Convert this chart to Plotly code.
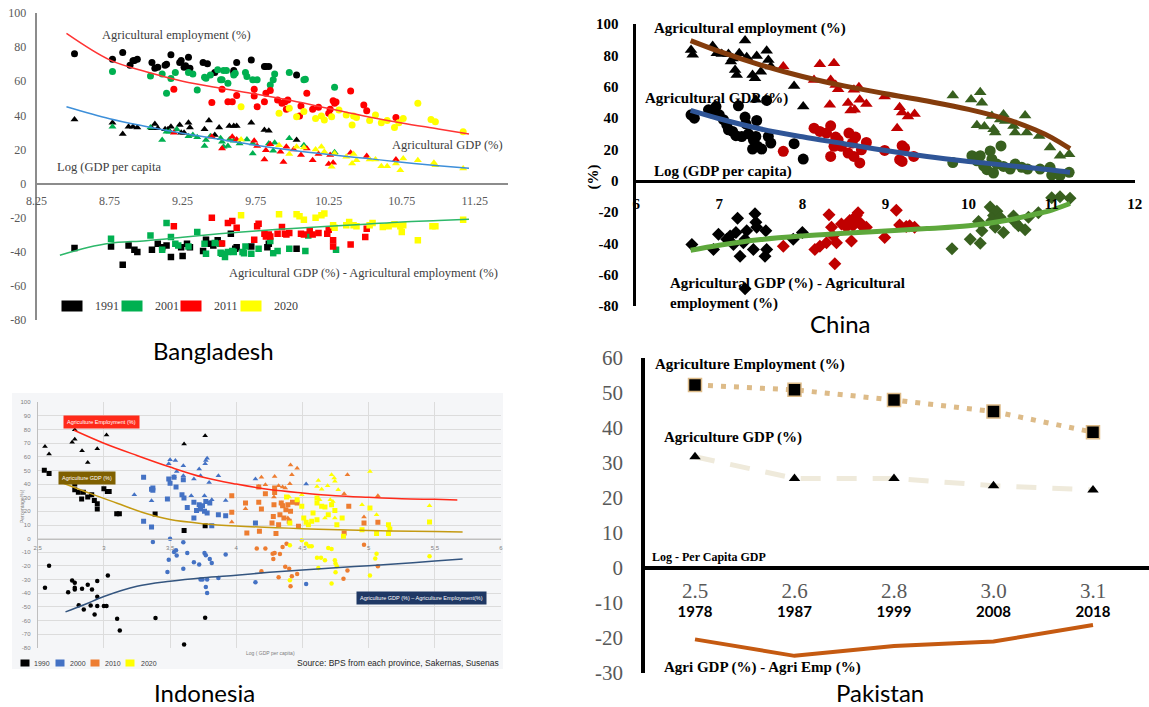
import plotly.graph_objects as go

# Target picture is 1149x707; the page body margin is removed after drawing,
# so the figure fills the whole window.
PAGE_W, PAGE_H = 1149, 707
OFF = 0
W, H = PAGE_W - 2 * OFF, PAGE_H - 2 * OFF

# ======================= DATA =======================
# ---- Bangladesh (x = log GDP per capita, y = %) ----
bd_years = ["1991", "2001", "2011", "2020"]
bd_colors = ["#000000", "#00B050", "#FF0000", "#FFFF00"]

bd_emp_1991 = [(8.51,76.1),(8.77,72.9),(8.84,76.9),(8.89,69.4),(8.91,72.0),(8.92,72.2),(8.94,72.9),(9.04,71.0),(9.06,67.6),(9.08,68.2),(9.13,69.4),(9.14,70.0),(9.17,75.5),(9.23,71.0),(9.24,72.2),(9.26,68.2),(9.27,69.0),(9.29,74.1),(9.30,67.6),(9.39,71.0),(9.42,70.2),(9.47,65.1),(9.60,66.3),(9.60,65.1),(9.62,71.0),(9.72,72.5),(9.81,68.6),(9.82,68.6),(9.84,68.6),(10.03,63.7)]
bd_emp_2001 = [(8.77,65.7),(9.03,63.1),(9.11,64.3),(9.14,52.9),(9.17,61.6),(9.20,65.1),(9.29,65.1),(9.32,64.3),(9.35,54.9),(9.40,62.4),(9.41,61.8),(9.44,63.7),(9.49,66.7),(9.51,60.8),(9.52,60.8),(9.53,66.3),(9.55,66.3),(9.56,58.8),(9.60,63.7),(9.61,64.7),(9.68,65.1),(9.69,62.7),(9.73,60.8),(9.76,60.8),(9.85,57.8),(9.87,60.8),(9.88,64.3),(9.98,65.1),(10.08,60.8),(10.09,61.2),(10.29,56.5)]
bd_emp_2011 = [(9.19,55.3),(9.45,47.5),(9.52,55.3),(9.56,48.0),(9.59,48.0),(9.62,51.6),(9.74,55.3),(9.74,51.4),(9.76,45.1),(9.81,48.0),(9.82,52.9),(9.85,54.5),(9.90,49.0),(9.93,47.1),(9.95,48.0),(9.96,43.5),(9.97,49.0),(10.05,39.6),(10.06,45.5),(10.10,52.9),(10.14,43.5),(10.18,44.7),(10.25,41.2),(10.26,43.5),(10.28,48.6),(10.29,47.1),(10.30,47.8),(10.40,54.3),(10.49,46.1),(10.51,42.7),(10.71,38.8)]
bd_emp_2020 = [(9.65,45.1),(9.91,41.2),(9.98,44.1),(10.03,39.2),(10.08,42.2),(10.16,38.2),(10.20,39.6),(10.22,37.3),(10.27,39.2),(10.32,43.1),(10.37,40.2),(10.41,34.3),(10.42,39.6),(10.44,38.8),(10.53,36.9),(10.57,40.2),(10.61,35.7),(10.65,36.9),(10.70,32.9),(10.73,35.7),(10.76,38.2),(10.86,47.1),(10.95,37.6),(10.98,36.3),(11.17,30.4)]

bd_gdp_1991 = [(8.51,37.6),(8.77,35.7),(8.84,29.0),(8.88,33.3),(8.91,33.3),(8.94,32.9),(9.04,32.4),(9.06,34.9),(9.08,32.4),(9.13,31.8),(9.15,31.8),(9.17,33.3),(9.23,34.3),(9.24,29.8),(9.26,29.8),(9.29,35.7),(9.30,32.9),(9.40,31.8),(9.43,36.9),(9.47,28.4),(9.50,32.9),(9.57,33.7),(9.60,33.7),(9.62,33.7),(9.72,35.7),(9.81,31.4),(9.84,31.0),(10.03,25.5)]
bd_gdp_2001 = [(8.77,33.3),(9.03,32.9),(9.11,25.5),(9.14,30.4),(9.16,30.4),(9.21,31.8),(9.29,27.8),(9.32,28.4),(9.35,27.1),(9.40,22.0),(9.41,25.5),(9.44,27.8),(9.51,26.5),(9.52,24.5),(9.53,21.6),(9.56,22.0),(9.57,25.9),(9.60,25.1),(9.64,23.5),(9.69,25.9),(9.73,17.6),(9.73,23.5),(9.84,23.5),(9.87,19.2),(9.88,23.9),(9.98,26.5),(10.08,22.5),(10.29,18.4)]
bd_gdp_2011 = [(9.19,29.8),(9.45,27.5),(9.52,20.6),(9.59,27.5),(9.62,25.9),(9.74,25.1),(9.76,22.0),(9.81,14.1),(9.82,19.6),(9.85,23.1),(9.92,18.6),(9.94,12.7),(9.96,21.6),(10.01,20.0),(10.06,16.7),(10.10,20.6),(10.14,13.7),(10.18,17.3),(10.25,11.4),(10.26,16.7),(10.28,12.2),(10.40,18.0),(10.51,16.1),(10.71,14.1)]
bd_gdp_2020 = [(9.65,25.9),(9.91,22.5),(9.98,17.3),(10.03,21.6),(10.08,21.2),(10.16,20.0),(10.20,21.6),(10.22,18.6),(10.27,9.8),(10.29,17.6),(10.37,15.7),(10.41,11.8),(10.42,17.3),(10.44,13.7),(10.53,14.1),(10.57,14.1),(10.61,10.2),(10.65,10.2),(10.71,11.8),(10.74,7.8),(10.76,14.7),(10.86,13.7),(10.97,12.2),(10.98,10.8),(11.17,8.8)]

bd_diff_1991 = [(8.51,-37.8),(8.76,-36.9),(8.84,-47.6),(8.88,-36.3),(8.92,-38.8),(8.94,-40.2),(9.04,-38.8),(9.08,-35.3),(9.11,-37.3),(9.14,-36.3),(9.17,-43.1),(9.24,-37.3),(9.25,-42.5),(9.28,-35.3),(9.30,-37.3),(9.39,-39.6),(9.41,-32.9),(9.43,-35.3),(9.46,-36.3),(9.49,-33.3),(9.51,-35.3),(9.58,-29.4),(9.61,-38.2),(9.62,-37.3),(9.72,-36.9),(9.83,-37.3),(9.84,-35.3),(10.03,-38.2)]
bd_diff_2001 = [(8.76,-32.4),(9.03,-30.4),(9.14,-23.1),(9.17,-31.4),(9.20,-35.3),(9.22,-36.3),(9.11,-38.8),(9.29,-36.9),(9.35,-28.4),(9.40,-35.3),(9.41,-41.2),(9.47,-34.9),(9.51,-35.3),(9.51,-40.6),(9.52,-41.2),(9.54,-43.1),(9.56,-40.2),(9.59,-39.6),(9.60,-40.2),(9.66,-40.2),(9.67,-40.8),(9.68,-36.9),(9.72,-41.2),(9.77,-38.2),(9.85,-33.7),(9.87,-40.8),(9.90,-39.6),(9.98,-38.2),(10.09,-39.6),(10.11,-30.4),(10.30,-38.8)]
bd_diff_2011 = [(9.19,-25.1),(9.45,-20.0),(9.52,-35.1),(9.56,-23.1),(9.59,-22.0),(9.62,-25.9),(9.74,-32.9),(9.76,-25.1),(9.77,-23.5),(9.81,-29.4),(9.82,-31.0),(9.84,-29.8),(9.85,-31.0),(9.90,-29.4),(9.93,-25.5),(9.95,-29.4),(9.96,-29.8),(9.98,-29.0),(10.06,-29.4),(10.08,-29.8),(10.12,-27.5),(10.14,-29.8),(10.18,-29.0),(10.24,-29.4),(10.25,-27.1),(10.28,-33.3),(10.28,-36.9),(10.40,-35.7),(10.50,-31.4),(10.51,-26.5)]
bd_diff_2020 = [(9.65,-18.6),(9.91,-18.0),(10.03,-18.0),(10.05,-19.2),(10.08,-21.2),(10.16,-20.0),(10.20,-18.6),(10.22,-17.6),(10.28,-24.5),(10.29,-25.9),(10.37,-24.5),(10.39,-22.5),(10.42,-24.5),(10.44,-25.1),(10.53,-24.5),(10.55,-23.1),(10.62,-25.5),(10.66,-25.1),(10.70,-23.9),(10.74,-25.1),(10.75,-28.4),(10.76,-24.5),(10.86,-33.3),(10.96,-25.1),(10.98,-25.1),(11.17,-21.2)]

bd_trend_x = [8.455, 8.75, 9.0, 9.25, 9.5, 9.75, 10.0, 10.25, 10.5, 10.75, 11.0, 11.21]
bd_trend_emp = [88, 72.5, 65.5, 60, 56, 52.5, 48.5, 44, 39.5, 35.5, 32, 29]
bd_trend_gdp = [45, 38, 33.5, 29.5, 26, 22.5, 19.5, 17, 14.8, 12.5, 10.5, 9]
bd_trend_diff_x = [8.41, 8.6, 8.75, 9.0, 9.25, 9.5, 9.75, 10.0, 10.25, 10.5, 10.75, 11.0, 11.21]
bd_trend_diff = [-42, -37.5, -35, -33.5, -31.5, -29.5, -27.8, -26.3, -25, -23.8, -22.5, -21.7, -21]

# ---- China ----
cn_colors = ["#000000", "#C00000", "#38601F"]
cn_emp_1 = [(6.66,83.4),(6.68,80.3),(6.92,86),(6.97,81.3),(7.03,80.9),(7.11,80.9),(7.14,76),(7.16,78),(7.19,70.7),(7.21,67.5),(7.24,81.3),(7.31,89.4),(7.33,78.8),(7.40,67.5),(7.43,65.4),(7.45,79.6),(7.50,69.6),(7.57,83),(7.59,77),(7.62,72.8),(7.44,51.6),(7.90,60.5),(8.01,47.3)]
cn_gdp_1 = [(6.66,42),(6.70,39.9),(6.87,45.2),(6.92,43.1),(6.96,47.3),(7.0,42),(7.05,38.9),(7.09,35.7),(7.11,32.5),(7.16,31.4),(7.20,28.7),(7.23,47.8),(7.27,28.2),(7.31,40.6),(7.32,36.3),(7.35,29.9),(7.40,20.2),(7.41,26.1),(7.44,28.2),(7.45,38.4),(7.46,21.9),(7.51,20.2),(7.57,51.2),(7.59,28.2),(7.62,24),(7.90,23.6),(8.01,13.8)]
cn_diff_1 = [(6.67,-40.7),(6.93,-43.9),(6.99,-34.2),(7.09,-37.4),(7.13,-35.3),(7.17,-40.7),(7.20,-33.1),(7.22,-24),(7.25,-48.3),(7.29,-39.6),(7.31,-37.4),(7.33,-32),(7.41,-43.9),(7.43,-21.1),(7.44,-26.6),(7.45,-29.8),(7.56,-32),(7.57,-43.9),(7.55,-48.3),(7.89,-37.4),(8.0,-33.1),(7.31,-69)]
cn_emp_2 = [(7.77,72.8),(8.14,64.3),(8.21,74.3),(8.38,74.9),(8.33,48.4),(8.34,64.3),(8.40,61.1),(8.43,58.4),(8.55,49.5),(8.58,44.8),(8.63,45.2),(8.62,58),(8.68,59.7),(8.69,51.6),(8.77,49),(8.99,53.7),(9.17,46.9),(9.20,43.5),(9.14,33.5),(9.27,41),(9.35,42.5)]
cn_gdp_2 = [(7.77,18.7),(8.14,33.5),(8.21,31.4),(8.29,30.4),(8.34,35),(8.34,15.5),(8.38,21.9),(8.40,27.8),(8.43,26.1),(8.47,21.9),(8.55,17.6),(8.56,30.4),(8.60,24),(8.62,15.5),(8.64,27.8),(8.69,11.3),(8.71,19.7),(8.77,24.4),(8.99,19.3),(9.20,22.3),(9.17,13.4),(9.20,12.3),(9.23,20.8),(9.34,15.5)]
cn_diff_2 = [(7.77,-41.8),(8.15,-43.9),(8.21,-41.8),(8.29,-39.6),(8.32,-21.8),(8.35,-29.8),(8.37,-35.3),(8.41,-39.6),(8.39,-53.1),(8.47,-27.6),(8.53,-29.8),(8.57,-25.5),(8.59,-38.5),(8.61,-28.7),(8.65,-22.2),(8.67,-20.5),(8.69,-26.6),(8.73,-29.8),(8.77,-29.8),(8.99,-36.3),(9.13,-18.9),(9.17,-28.3),(9.25,-29.2),(9.29,-28.7),(9.35,-29.8)]
cn_emp_3 = [(9.81,54.3),(10.03,51.8),(10.14,56.4),(10.16,49.7),(10.10,35.3),(10.19,34.5),(10.28,41.2),(10.30,32.8),(10.32,30.7),(10.38,39.1),(10.42,42.3),(10.44,38.1),(10.54,34.9),(10.56,30.7),(10.68,41.6),(10.70,30.7),(10.85,28.5),(10.98,21.1),(11.10,15.9),(11.21,16.9)]
cn_gdp_3 = [(9.81,11.6),(10.04,15.9),(10.10,12.7),(10.14,15.9),(10.18,9.5),(10.22,7.0),(10.26,19.0),(10.28,13.7),(10.30,4.9),(10.39,22.2),(10.34,10.6),(10.42,9.1),(10.50,7.4),(10.56,10.6),(10.64,8.5),(10.71,7.4),(10.86,7.4),(10.98,8.5),(11.0,3.6),(11.10,3.2),(11.21,5.3)]
cn_diff_3 = [(9.80,-43.5),(10.02,-37.4),(10.12,-26.1),(10.14,-40.0),(10.16,-32),(10.26,-16.8),(10.28,-25.5),(10.30,-22.2),(10.32,-29.8),(10.34,-19.6),(10.38,-23.3),(10.42,-33.1),(10.54,-22.6),(10.56,-26.6),(10.60,-28.7),(10.68,-31.3),(10.72,-23.3),(10.84,-20.5),(11.0,-10.9),(11.10,-10.3),(11.22,-11.3)]

cn_trend_x = [6.655, 7.0, 7.5, 8.0, 8.5, 9.0, 9.5, 10.0, 10.5, 10.8, 11.0, 11.22]
cn_trend_emp = [89.4, 82.5, 73.8, 66.5, 60.5, 55.5, 50.8, 45.5, 38.5, 32.5, 27.5, 20.4]
cn_trend_gdp = [44.8, 39.5, 33.0, 28.0, 23.6, 19.2, 15.4, 12.3, 9.6, 7.9, 6.8, 5.3]
cn_trend_diff = [-44.4, -41.2, -37.6, -35.3, -33.6, -32.1, -30.6, -28.8, -24.9, -21.4, -18.8, -14.6]

# ---- Indonesia ----
id_years = ["1990", "2000", "2010", "2020"]
id_colors = ["#000000", "#4472C4", "#ED7D31", "#FFFF00"]
id_emp_1990 = [(2.555,67.6),(2.586,62),(2.78,79.8),(2.76,70.7),(2.78,72.9),(2.835,64.4),(2.878,55.9),(2.95,65.9),(3.02,76.1),(3.606,69.5),(3.765,75.4)]
id_gdp_1990 = [(2.55,50.2),(2.586,47.8),(2.78,40),(2.78,35.9),(2.807,34.1),(2.845,34.1),(2.832,29),(2.878,30.5),(2.908,32.2),(2.928,28),(2.95,25.6),(2.95,21.7),(3.0,36.6),(3.026,34.6),(3.04,34.6),(3.097,18.3),(3.117,18.3),(3.387,18),(3.606,5.9),(3.765,9.5)]
id_diff_1990 = [(2.555,-36.1),(2.586,-19.8),(2.73,-39.3),(2.76,-30.7),(2.78,-32.4),(2.78,-36.1),(2.78,-37.3),(2.81,-48.8),(2.835,-36.8),(2.848,-52),(2.878,-33.9),(2.90,-49),(2.91,-37.3),(2.93,-55.6),(2.95,-31),(2.95,-49.5),(2.95,-42.7),(3.0,-49.5),(3.02,-49.5),(3.03,-27.1),(3.10,-58.8),(3.12,-67.3),(3.39,-58.3),(3.606,-77.6),(3.765,-58)]
id_emp_2000 = [(3.23,32.2),(3.36,27.8),(3.49,54.9),(3.50,57.8),(3.54,57.3),(3.53,45.6),(3.55,49.3),(3.60,53.4),(3.60,46.1),(3.66,31.5),(3.68,43.7),(3.72,51),(3.73,46.1),(3.76,31.5),(3.765,54.9),(3.77,57.3),(3.78,59),(3.795,41.2),(3.815,28.5),(3.865,46.1),(3.92,28),(4.145,43.7),(4.528,40)]
id_gdp_2000 = [(3.30,45.1),(3.36,36.3),(3.37,37.1),(3.37,35.4),(3.48,29),(3.49,43.7),(3.50,40.7),(3.53,45.1),(3.545,37.8),(3.59,32.2),(3.60,43.2),(3.605,29.8),(3.63,22.9),(3.68,26.6),(3.70,20.7),(3.72,24.9),(3.73,21.7),(3.745,24.1),(3.76,20),(3.77,27.3),(3.78,18.8),(3.80,26.1),(3.815,9.5),(3.865,17.6),(3.92,16.8),(4.145,11.5),(3.30,12.7),(3.36,8.5),(3.68,15.1)]
id_diff_2000 = [(3.37,-2.4),(3.48,-24.4),(3.50,0),(3.49,-15.4),(3.53,-9.8),(3.545,-8.5),(3.55,-12.4),(3.60,-2.7),(3.60,-22),(3.63,-10.5),(3.68,-17.3),(3.72,-19),(3.73,-30),(3.745,-30),(3.76,-10.5),(3.77,-12.2),(3.78,-30),(3.77,-35.4),(3.78,-39.8),(3.80,-14.9),(3.815,-17.8),(3.865,-28.8),(3.92,-11.7),(4.145,-32),(4.528,-33.2)]
id_emp_2010 = [(3.966,12.2),(4.07,22),(4.17,38.3),(4.19,45.1),(4.22,39.5),(4.29,45.6),(4.32,38.8),(4.35,37.8),(4.37,37.1),(4.41,54.1),(4.42,46.8),(4.405,40.2),(4.46,51.7),(4.84,46.8),(4.815,32.9),(4.965,15.9),(5.07,31.5),(4.285,30.5),(4.34,26.1),(4.39,15.1)]
id_gdp_2010 = [(3.966,31.5),(3.966,19.3),(4.07,26.1),(4.08,4.1),(4.17,37.8),(4.17,26.6),(4.175,5.4),(4.19,21.7),(4.22,32.9),(4.27,11.5),(4.28,16.3),(4.285,24.9),(4.29,33.9),(4.29,37.1),(4.30,3.7),(4.32,10.2),(4.33,17.6),(4.34,26.1),(4.35,24.1),(4.36,15.1),(4.375,21.2),(4.39,24.9),(4.40,12.7),(4.41,20),(4.425,26.6),(4.47,9),(4.46,26.1),(4.85,23.7),(4.815,4.1),(4.965,11.5),(5.07,12)]
id_diff_2010 = [(4.155,-7.3),(4.22,-7.3),(4.19,-23.9),(4.275,-11),(4.28,-14.9),(4.29,-10.5),(4.33,-11.2),(4.35,-6.1),(4.32,-28.3),(4.37,-20.7),(4.38,-3.7),(4.40,-22),(4.41,-34.9),(4.42,-27.6),(4.46,-25.9),(4.81,-29.5),(4.84,-23.4),(4.965,-4.4),(5.07,-20.2)]
id_emp_2020 = [(4.40,30.5),(4.495,32.2),(4.61,38.3),(4.62,42.7),(4.645,36.3),(4.69,38.8),(4.72,46.8),(4.74,44.4),(4.745,42),(4.77,35.9),(4.71,28.5),(4.73,27.3),(4.67,15.1),(4.745,15.1),(4.95,24.9),(5.01,49.3),(5.06,17.6),(5.46,24.1),(4.63,28.5)]
id_gdp_2020 = [(4.38,30.5),(4.405,11.5),(4.46,28.5),(4.495,23.7),(4.51,15.1),(4.528,12),(4.545,10.2),(4.57,12.7),(4.58,18.8),(4.61,29.8),(4.61,13.9),(4.645,23.7),(4.67,23.2),(4.695,17.6),(4.72,24.9),(4.745,20.7),(4.76,10.2),(4.80,15.1),(4.81,1.7),(4.95,6.6),(5.01,22.4),(5.06,3.7),(5.15,10.2),(5.15,3.7),(5.46,12.2),(5.16,7.1),(4.61,26.1)]
id_diff_2020 = [(4.405,-4.9),(4.495,-1.2),(4.528,-3.7),(4.55,-5.6),(4.57,-5.6),(4.61,-14.1),(4.64,-14.1),(4.67,-15.9),(4.695,-6.8),(4.72,-7.6),(4.745,-15.9),(4.75,-18.3),(4.75,-24.6),(4.76,-20.2),(4.72,-32.9),(5.05,-14.6),(5.01,-27.1),(5.06,-11),(5.46,-12.9),(4.62,-21.5),(4.405,-30.5)]

id_trend_emp_x = [2.775, 3.0, 3.25, 3.5, 3.75, 4.0, 4.25, 4.5, 4.75, 5.0, 5.25, 5.5, 5.67]
id_trend_emp = [79.5, 70, 61, 52.5, 45, 40, 36, 33.5, 31.5, 30.3, 29.3, 28.8, 28.4]
id_trend_gdp_x = [2.68, 2.9, 3.1, 3.3, 3.5, 3.75, 4.0, 4.5, 5.0, 5.5, 5.71]
id_trend_gdp = [41.2, 33, 26, 19, 14, 11, 9.3, 7.3, 6, 5.2, 4.9]
id_trend_diff_x = [2.71, 2.85, 3.0, 3.25, 3.5, 3.75, 4.0, 4.25, 4.5, 4.75, 5.0, 5.25, 5.5, 5.71]
id_trend_diff = [-53.7, -48.5, -42.5, -35, -31.3, -28.7, -26.8, -24.7, -23, -21.3, -19.8, -18.2, -16.4, -15]
id_xticks = [2.5, 3, 3.5, 4, 4.5, 5, 5.5, 6]
id_xtick_text = ["2,5", "3", "3,5", "4", "4,5", "5", "5,5", "6"]

# ---- Pakistan ----
pk_log_gdp = ["2.5", "2.6", "2.8", "3.0", "3.1"]
pk_years = ["1978", "1987", "1999", "2008", "2018"]
pk_emp = [52.3, 50.9, 48.0, 44.7, 38.8]
pk_gdp = [31.8, 25.6, 25.6, 23.5, 22.3]
pk_diff = [-20.4, -25.1, -22.3, -21.0, -16.3]

# ======================= FIGURE =======================
SERIF = "Liberation Serif"
SANS = "Liberation Sans"
TITLEF = "Lato"

def fx(p):
    return min(1.0, max(0.0, (p - OFF) / W))

def fy(p):
    return min(1.0, max(0.0, 1 - (p - OFF) / H))

fig = go.Figure()

def pts(data, ax, symbol, color, size, lc=None, lw=0):
    fig.add_trace(go.Scatter(
        x=[d[0] for d in data], y=[d[1] for d in data], mode="markers",
        xaxis="x" + ax, yaxis="y" + ax,
        marker=dict(symbol=symbol, color=color, size=size,
                    line=dict(color=lc or color, width=lw)),
        showlegend=False, hoverinfo="skip"))

def trend(xs, ys, ax, color, width):
    fig.add_trace(go.Scatter(
        x=xs, y=ys, mode="lines", xaxis="x" + ax, yaxis="y" + ax,
        line=dict(color=color, width=width, shape="spline", smoothing=1.0),
        showlegend=False, hoverinfo="skip"))

# Bangladesh
bd_groups = [
    (bd_emp_1991, bd_gdp_1991, bd_diff_1991),
    (bd_emp_2001, bd_gdp_2001, bd_diff_2001),
    (bd_emp_2011, bd_gdp_2011, bd_diff_2011),
    (bd_emp_2020, bd_gdp_2020, bd_diff_2020),
]
for (e, g, d), c in zip(bd_groups, bd_colors):
    pts(e, "", "circle", c, 7)
    pts(g, "", "triangle-up", c, 7)
    pts(d, "", "square", c, 6.5)
trend(bd_trend_x, bd_trend_emp, "", "#FF3333", 1.5)
trend(bd_trend_x, bd_trend_gdp, "", "#3D8FD9", 1.5)
trend(bd_trend_diff_x, bd_trend_diff, "", "#2DB86A", 1.5)

# China
cn_groups = [(cn_emp_1, cn_gdp_1, cn_diff_1), (cn_emp_2, cn_gdp_2, cn_diff_2), (cn_emp_3, cn_gdp_3, cn_diff_3)]
for (e, g, d), c in zip(cn_groups, cn_colors):
    pts(e, "2", "triangle-up", c, 11)
    pts(g, "2", "circle", c, 11)
    pts(d, "2", "diamond", c, 10)
trend(cn_trend_x, cn_trend_emp, "2", "#843C0C", 5)
trend(cn_trend_x, cn_trend_gdp, "2", "#2F5597", 5)
trend(cn_trend_x, cn_trend_diff, "2", "#5EA83C", 5)

# Indonesia
id_groups = [
    (id_emp_1990, id_gdp_1990, id_diff_1990),
    (id_emp_2000, id_gdp_2000, id_diff_2000),
    (id_emp_2010, id_gdp_2010, id_diff_2010),
    (id_emp_2020, id_gdp_2020, id_diff_2020),
]
for (e, g, d), c in zip(id_groups, id_colors):
    pts(e, "3", "triangle-up", c, 5)
    pts(g, "3", "square", c, 5)
    pts(d, "3", "circle", c, 4.5)
trend(id_trend_emp_x, id_trend_emp, "3", "#FF2A1A", 1.5)
trend(id_trend_gdp_x, id_trend_gdp, "3", "#C49A12", 1.5)
trend(id_trend_diff_x, id_trend_diff, "3", "#34557F", 1.5)

# Pakistan
fig.add_trace(go.Scatter(x=pk_years, y=pk_emp, mode="lines+markers", xaxis="x4", yaxis="y4",
                         line=dict(color="#DDBB88", width=5, dash="5px,8px"),
                         marker=dict(symbol="square", size=13, color="black", line=dict(color="#DDBB88", width=1.5)),
                         showlegend=False, hoverinfo="skip"))
fig.add_trace(go.Scatter(x=pk_years, y=pk_gdp, mode="lines+markers", xaxis="x4", yaxis="y4",
                         line=dict(color="#EFEADB", width=5, dash="20px,16px"),
                         marker=dict(symbol="triangle-up", size=10, color="black"),
                         showlegend=False, hoverinfo="skip"))
fig.add_trace(go.Scatter(x=pk_years, y=pk_diff, mode="lines", xaxis="x4", yaxis="y4",
                         line=dict(color="#C55A11", width=4),
                         showlegend=False, hoverinfo="skip"))

def yticks(lo, hi, step):
    vals = list(range(lo, hi + 1, step))
    return vals, [str(v) for v in vals]

bd_yv, bd_yt = yticks(-80, 100, 20)
id_yv, id_yt = yticks(-80, 100, 10)
pk_yv, pk_yt = yticks(-30, 60, 10)

# Pakistan category axis: categories sit 99.5 px apart, first at x=695
pk_left = (645 - 695) / 99.5
pk_right = pk_left + (PAGE_W - OFF - 645) / 99.5

fig.update_layout(
    width=W, height=H, margin=dict(l=0, r=0, t=0, b=0, autoexpand=False),
    paper_bgcolor="white", plot_bgcolor="rgba(0,0,0,0)", showlegend=False,
    # Bangladesh
    xaxis=dict(domain=[fx(36.5), fx(508)], range=[8.2499, 11.477], anchor="free", position=fy(183.6),
               showline=True, linecolor="#8C8C8C", linewidth=1.5, showgrid=False, zeroline=False,
               tick0=8.25, dtick=0.5, tickformat=".2f", ticks="", automargin=False,
               tickfont=dict(family=SERIF, size=12, color="#595959"), ticklabelstandoff=6),
    yaxis=dict(domain=[fy(320), fy(13)], range=[-80, 100], anchor="x", automargin=False,
               showline=True, linecolor="#8C8C8C", linewidth=1.5, showgrid=False, zeroline=False,
               tickvals=bd_yv, ticktext=bd_yt, ticks="",
               tickfont=dict(family=SERIF, size=12, color="#595959"), ticklabelstandoff=6),
    # China
    xaxis2=dict(domain=[fx(636.2), fx(1134.8)], range=[6, 12.0], anchor="free", position=fy(181),
                showline=True, linecolor="black", linewidth=2.5, showgrid=False, zeroline=False,
                tick0=6, dtick=1, ticks="", automargin=False,
                tickfont=dict(family=SERIF, size=15, color="black", weight="bold"), ticklabelstandoff=8),
    yaxis2=dict(domain=[fy(306), fy(24)], range=[-80, 100], anchor="x2", automargin=False,
                showline=True, linecolor="black", linewidth=2.5, showgrid=False, zeroline=False,
                tickvals=bd_yv, ticktext=bd_yt, ticks="",
                tickfont=dict(family=SERIF, size=15, color="black", weight="bold"), ticklabelstandoff=12),
    # Indonesia
    xaxis3=dict(domain=[fx(37.7), fx(501)], range=[2.5, 6], anchor="free", position=fy(539),
                showline=True, linecolor="#BFBFBF", linewidth=1, showgrid=True, gridcolor="#DCDCDC",
                gridwidth=1, zeroline=False, tickvals=id_xticks, ticktext=id_xtick_text, ticks="",
                automargin=False, tickfont=dict(family=SANS, size=6, color="#7F7F7F"), ticklabelstandoff=3),
    yaxis3=dict(domain=[fy(647.7), fy(402.3)], range=[-80, 100], anchor="x3", automargin=False,
                showline=True, linecolor="#BFBFBF", linewidth=1, showgrid=True, gridcolor="#DCDCDC",
                gridwidth=1, zeroline=False, tickvals=id_yv, ticktext=id_yt, ticks="",
                tickfont=dict(family=SANS, size=6, color="#7F7F7F"), ticklabelstandoff=5),
    # Pakistan
    xaxis4=dict(domain=[fx(645), 1.0], range=[pk_left, pk_right], type="category",
                categoryorder="array", categoryarray=pk_years, anchor="free", position=fy(568),
                showline=True, linecolor="black", linewidth=3.5, showgrid=False, zeroline=False,
                tickvals=pk_years, automargin=False,
                ticktext=[f"<span style='font-family:{SERIF};font-size:21px;color:#595959'>{g}</span><br><b>{y}</b>"
                          for g, y in zip(pk_log_gdp, pk_years)],
                ticks="", tickfont=dict(family=TITLEF, size=15, color="black"), ticklabelstandoff=10),
    yaxis4=dict(domain=[fy(673), fy(358)], range=[-30, 60], anchor="x4", automargin=False,
                showline=True, linecolor="black", linewidth=3.5, showgrid=False, zeroline=False,
                tickvals=pk_yv, ticktext=pk_yt, ticks="",
                tickfont=dict(family=SERIF, size=21, color="#595959"), ticklabelstandoff=14),
)

# Indonesia chart-area background
fig.add_shape(type="rect", xref="paper", yref="paper", x0=fx(12), x1=fx(503), y0=fy(669), y1=fy(393),
              fillcolor="#F5F6F8", line=dict(width=0), layer="below")

def ann(text, x, y, size, family, color="black", xanchor="left", bold=False, **kw):
    fig.add_annotation(text=text, x=fx(x), y=fy(y), xref="paper", yref="paper",
                       xanchor=xanchor, yanchor="middle", showarrow=False,
                       font=dict(size=size, family=family, color=color, weight="bold" if bold else "normal"), **kw)

# Bangladesh labels
ann("Agricultural employment (%)", 176, 35, 12.5, SERIF, "#404040", "center")
ann("Agricultural GDP (%)", 447, 145, 12.5, SERIF, "#404040", "center")
ann("Log (GDP per capita", 109, 167, 12.5, SERIF, "#404040", "center")
ann("Agricultural GDP (%) - Agricultural employment (%)", 363, 273, 12.5, SERIF, "#404040", "center")
for i, (yr, c) in enumerate(zip(bd_years, bd_colors)):
    fig.add_annotation(text=" ", x=fx(72 + i * 59.5), y=fy(306), xref="paper", yref="paper",
                       xanchor="center", yanchor="middle", showarrow=False, width=20, height=10,
                       bgcolor=c, borderpad=0, font=dict(size=6))
    ann(yr, 93 + i * 59.5, 306, 12, SERIF, "#404040")
ann("Bangladesh", 213, 350, 24, TITLEF, "black", "center")

# China labels
ann("Agricultural employment (%)", 652, 28, 15, SERIF, "black", bold=True)
ann("Agricultural GDP (%)", 643, 98, 15, SERIF, "black", bold=True)
ann("Log (GDP per capita)", 652, 172, 15, SERIF, "black", bold=True)
ann("Agricultural GDP (%) - Agricultural<br>employment (%)", 668, 293, 15, SERIF, "black", bold=True, align="left")
fig.add_annotation(text="(%)", x=fx(593), y=fy(163), xref="paper", yref="paper", showarrow=False,
                   textangle=-90, font=dict(size=15, family=SERIF, color="black", weight="bold"))
ann("China", 840, 323, 24, TITLEF, "black", "center")

# Indonesia labels
ann("Agriculture Employment (%)", 101, 422, 5.5, SANS, "white", "center", bgcolor="#FF2A1A", borderpad=3)
ann("Agriculture GDP (%)", 87, 478, 5.5, SANS, "white", "center", bgcolor="#7F6000", borderpad=3)
ann("Agriculture GDP (%) \u2013 Agriculture Employment(%)", 421, 598, 5.5, SANS, "white", "center",
    bgcolor="#1F3864", borderpad=3)
ann("Log ( GDP per capita)", 270, 653, 5, SANS, "#7F7F7F", "center")
fig.add_annotation(text="Percentage(%)", x=fx(17), y=fy(525), xref="paper", yref="paper", showarrow=False,
                   textangle=-90, font=dict(size=5, family=SANS, color="#7F7F7F"))
for i, (yr, c) in enumerate(zip(id_years, id_colors)):
    fig.add_annotation(text=" ", x=fx(25 + i * 35), y=fy(663), xref="paper", yref="paper",
                       xanchor="center", yanchor="middle", showarrow=False, width=8, height=6,
                       bgcolor=c, borderpad=0, font=dict(size=4))
    ann(yr, 32 + i * 35.5, 663, 7, SANS, "#404040")
ann("Source: BPS from each province, Sakernas, Susenas", 501, 663, 8.5, SANS, "#262626", "right")
ann("Indonesia", 204, 692, 24, TITLEF, "black", "center")

# Pakistan labels
ann("Agriculture Employment (%)", 653, 365, 15, SERIF, "black", bold=True)
ann("Agriculture GDP (%)", 662, 437, 15, SERIF, "black", bold=True)
ann("Log - Per Capita GDP", 650, 557, 12, SERIF, "black", bold=True)
ann("Agri GDP (%) - Agri Emp (%)", 662, 667, 15, SERIF, "black", bold=True)
ann("Pakistan", 880, 692, 24, TITLEF, "black", "center")

fig.write_html("out.html", config={"displayModeBar": False},
               post_script="document.body.style.margin='0px';document.body.style.overflow='hidden';")
